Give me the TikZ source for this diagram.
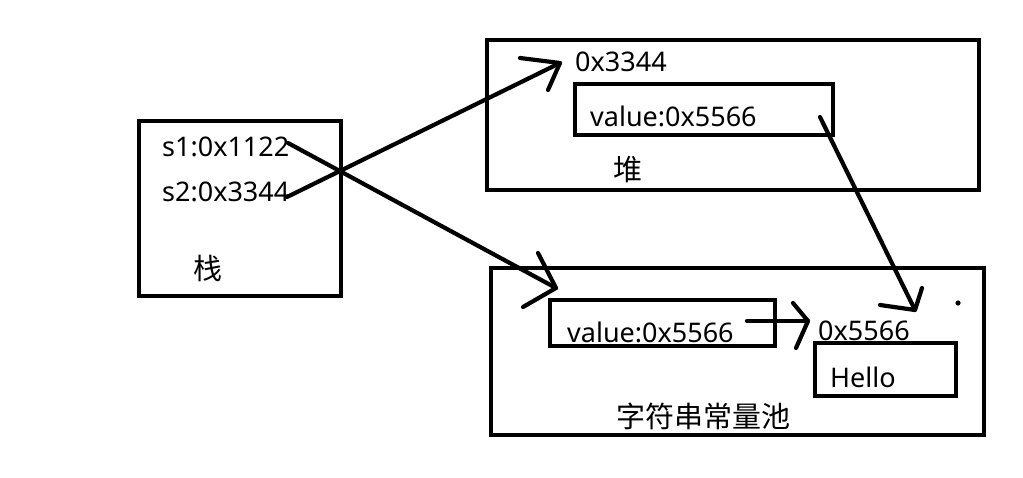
\documentclass[tikz,border=0pt]{standalone}
\usepackage{fontspec}
\setmainfont{Noto Sans}
\newfontfamily\cjk{Noto Sans CJK SC}
\begin{document}
\begin{tikzpicture}[x=1pt,y=-1pt,
  box/.style={draw=black,line width=4.5pt,inner sep=0pt,fill=none},
  lbl/.style={inner sep=0pt,anchor=base west,font=\fontsize{27}{30}\selectfont},
  clbl/.style={inner sep=0pt,font=\cjk\fontsize{29}{32}\selectfont},
  wire/.style={line width=4.2pt,line cap=round,line join=round}]
\useasboundingbox[fill=white] (0,0) rectangle (1023,478);
% boxes
\node[box,minimum width=202pt,minimum height=175pt] (stack) at (240,208.5) {};
\node[box,minimum width=492pt,minimum height=150pt] (heap) at (733,115) {};
\node[box,minimum width=258pt,minimum height=51pt] (hin) at (704,109.5) {};
\node[box,minimum width=493pt,minimum height=167pt] (pool) at (737.5,351.5) {};
\node[box,minimum width=225pt,minimum height=46pt] (pin) at (662.5,323) {};
\node[box,minimum width=141pt,minimum height=53pt] (hello) at (885.5,369.5) {};
% texts
\node[lbl] (s1) at (162,157) {s1:0x1122};
\node[lbl] (s2) at (162,202) {s2:0x3344};
\node[clbl] (zhan) at (208,268) {栈};
\node[lbl] (haddr) at (575,72) {0x3344};
\node[lbl] (hval) at (590,127) {value:0x5566};
\node[clbl] (dui) at (628,170) {堆};
\node[lbl] (pval) at (567,342) {value:0x5566};
\node[lbl] (paddr) at (818,341) {0x5566};
\node[lbl] (htxt) at (830,388) {Hello};
\node[clbl] (pname) at (703,416) {字符串常量池};
% connector end points
\coordinate (a1s) at (287,197);
\coordinate (a1t) at (560,63);
\coordinate (a2s) at (288,143);
\coordinate (a2t) at (556,288);
\coordinate (a3s) at (747,321);
\coordinate (a3t) at (808,321);
\coordinate (a4s) at (820,117);
\coordinate (a4t) at (915,310);
% connectors
\draw[wire] (a1s) -- (a1t);
\draw[wire] (a1t) ++(-40,-5) -- (a1t) -- ++(-12,27);
\draw[wire] (a2s) -- (a2t);
\draw[wire] (a2t) ++(-18,-35) -- (a2t) -- ++(-33,19);
\draw[wire] (a3s) -- (a3t);
\draw[wire] (a3t) ++(-15,-18) -- (a3t) -- ++(-12,27);
\draw[wire] (a4s) -- (a4t);
\draw[wire] (a4t) ++(-35,-5) -- (a4t) -- ++(7,-22);
\fill (958,303) circle (2.6pt);
\end{tikzpicture}
\end{document}
